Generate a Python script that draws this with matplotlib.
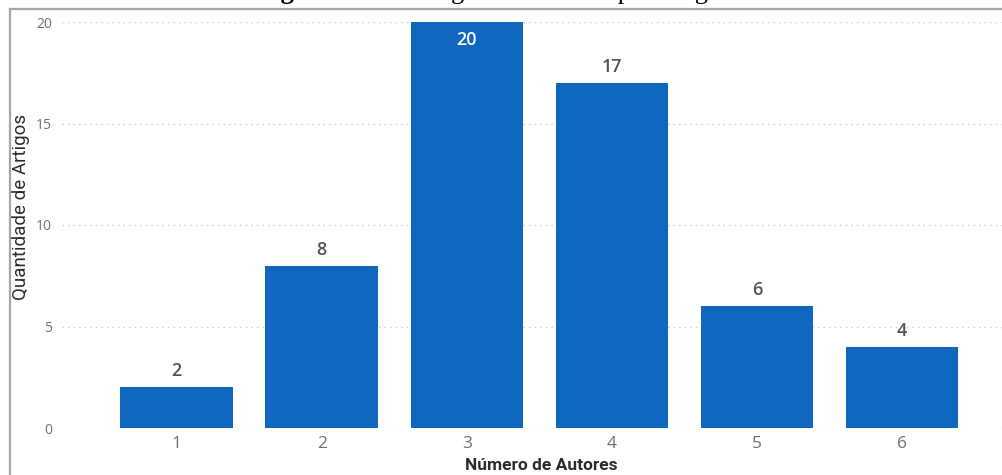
import matplotlib
matplotlib.use('Agg')
import matplotlib.pyplot as plt
from matplotlib.lines import Line2D

# number of authors per article
autores = ['1', '2', '3', '4', '5', '6']
artigos = [2, 8, 20, 17, 6, 4]
yticks = [0, 5, 10, 15, 20]

bar_color = '#1067c0'
tick_color = '#6e6e6e'

fig = plt.figure(figsize=(10.02, 4.75), dpi=100)
ax = fig.add_axes([62 / 1002, 47 / 475, 1 - 62 / 1002, 406 / 475])

x = list(range(1, len(autores) + 1))
bars = ax.bar(x, artigos, width=0.775, color=bar_color, zorder=2)

ax.set_xlim(0.21, 6.69)
ax.set_ylim(0, 20)
ax.set_yticks(yticks)
ax.set_xticks(x)
ax.set_xticklabels(autores)

ax.grid(axis='y', color='#c8c8c8', linestyle=(0, (1, 3)), linewidth=1, zorder=0)
for s in ax.spines.values():
    s.set_visible(False)
ax.tick_params(axis='y', length=0, pad=7, labelsize=10, labelcolor=tick_color)
ax.tick_params(axis='x', length=0, pad=6, labelsize=12.5, labelcolor=tick_color)
for t in ax.get_xticklabels() + ax.get_yticklabels():
    t.set_fontfamily('Open Sans')

ax.set_xlabel('Número de Autores', fontsize=12.5, fontweight='bold',
              color='#2b2b2b', family='Roboto')
ax.xaxis.set_label_coords((541 - 62) / 940, -30 / 406)
ax.set_ylabel('Quantidade de Artigos', fontsize=13.5, color='#2b2b2b',
              family='Roboto')
ax.yaxis.set_label_coords(-32 / 940, (428 - 207) / 406)

# value labels: above the bar, or inside when there is no room
for xi, v in zip(x, artigos):
    if v + 1.2 > 20:
        ax.annotate(str(v), (xi, v), xytext=(0, -18), textcoords='offset pixels',
                    ha='center', va='center', color='white', fontsize=13,
                    fontweight='semibold', family='Open Sans')
    else:
        ax.annotate(str(v), (xi, v), xytext=(0, 16), textcoords='offset pixels',
                    ha='center', va='center', color='#525252', fontsize=13,
                    fontweight='semibold', family='Open Sans')

# frame around the chart
fig.add_artist(Line2D([10 / 1002, 10 / 1002], [0, 1 - 9 / 475],
                      transform=fig.transFigure, color='#a6a6a6', lw=1.6))
fig.add_artist(Line2D([10 / 1002, 1], [1 - 9 / 475, 1 - 9 / 475],
                      transform=fig.transFigure, color='#a6a6a6', lw=1.6))

# caption sitting just above the page edge, only its descenders show
base = 1 + 1 / 475
fig.text(257 / 1002, base, 'Figura 3:', fontsize=19, fontweight='bold',
         family='Liberation Serif', va='baseline', ha='left')
fig.text(388 / 1002, base, 'Contagem de autores por artigo', fontsize=19,
         family='Liberation Serif', va='baseline', ha='left')

fig.savefig('out.png', dpi=100)
